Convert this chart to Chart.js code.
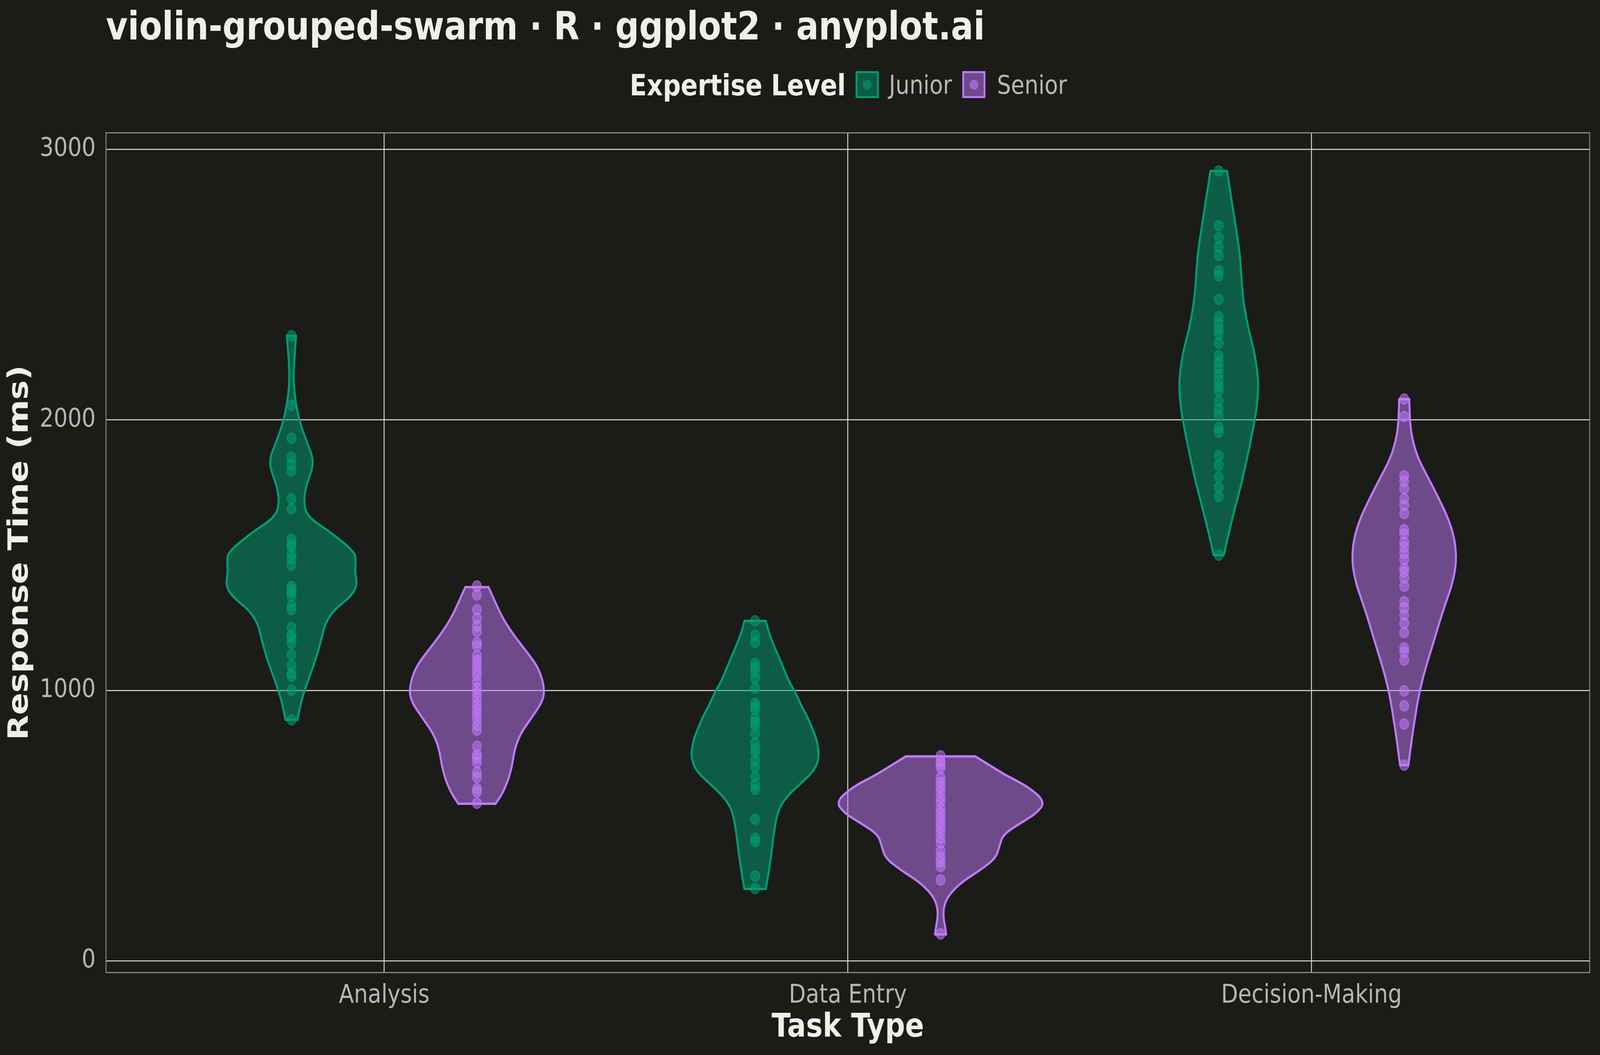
<!DOCTYPE html>
<html>
<head>
<meta charset="utf-8">
<script src="https://cdn.jsdelivr.net/npm/chart.js@4.4.1/dist/chart.umd.min.js"></script>
<style>
  html, body { margin: 0; padding: 0; width: 100%; height: 100%; background: #1b1b18; overflow: hidden; }
  #stage { position: fixed; left: 0; top: 0; width: 100vw; height: 100vh; overflow: hidden; }
  #wrap { position: absolute; left: 0; top: 0; width: 4800px; height: 2700px; transform-origin: 0 0; }
  #chart { position: absolute; left: 0; top: 0; width: 4800px; height: 2700px; }
  .txt { position: absolute; white-space: nowrap; font-family: "DejaVu Sans"; }
  #title { left: 318px; top: 17px; font-size: 100px; line-height: 100px; font-weight: bold; color: #f0efe8; }
  #legTitle { left: 1889px; top: 181px; font-size: 75px; line-height: 75px; font-weight: bold; color: #f0efe8; }
  .legLab { top: 185px; font-size: 66px; line-height: 66px; color: #b8b7b0; }
  .key { position: absolute; top: 182px; width: 69px; height: 69px; box-sizing: border-box; border: 5px solid; }
  .key span { position: absolute; left: 50%; top: 50%; width: 26px; height: 26px; margin: -13px 0 0 -13px; border-radius: 50%; }
</style>
</head>
<body>
<div id="stage">
<div id="wrap">
  <canvas id="chart" width="4800" height="2700"></canvas>
  <div id="title" class="txt">violin-grouped-swarm · R · ggplot2 · anyplot.ai</div>
  <div id="legTitle" class="txt">Expertise Level</div>
  <div class="key" style="left:2567px; border-color:#009e73; background:rgba(0,158,115,0.5);"><span style="background:rgba(0,158,115,0.6);"></span></div>
  <div class="txt legLab" style="left:2667px;">Junior</div>
  <div class="key" style="left:2887px; border-color:#c17afc; background:rgba(193,122,252,0.5);"><span style="background:rgba(193,122,252,0.6);"></span></div>
  <div class="txt legLab" style="left:2991px;">Senior</div>
</div>
</div>
<script>
// the 4800x2700 layout is stretched onto whatever viewport we actually get
const wrap = document.getElementById('wrap');
wrap.style.transform = `scale(${window.innerWidth / 4800}, ${window.innerHeight / 2700})`;

// categories / groups
const categories = ['Analysis', 'Data Entry', 'Decision-Making'];
const groups = ['Junior', 'Senior'];
const yTicks = [0, 1000, 2000, 3000];

// raw response times (ms)
const analysisJunior = [2311, 2054, 1932, 1861, 1835, 1811, 1708, 1671, 1559, 1541, 1533, 1505, 1487, 1463, 1385, 1374, 1362, 1350, 1314, 1298, 1233, 1203, 1194, 1174, 1132, 1092, 1062, 1053, 1001, 891];
const analysisSenior = [1386, 1353, 1298, 1266, 1238, 1218, 1176, 1164, 1128, 1110, 1092, 1074, 1056, 1032, 1008, 990, 972, 948, 930, 912, 894, 871, 853, 793, 763, 751, 733, 697, 679, 637, 625, 583];
const dataEntryJunior = [1257, 1203, 1178, 1099, 1085, 1067, 1045, 1008, 952, 940, 930, 896, 883, 870, 840, 805, 783, 770, 741, 717, 682, 651, 634, 524, 454, 441, 314, 268];
const dataEntrySenior = [758, 739, 726, 714, 678, 660, 643, 625, 603, 588, 564, 546, 529, 511, 494, 476, 454, 437, 406, 384, 367, 349, 299, 100];
const decisionJunior = [2920, 2718, 2673, 2639, 2609, 2551, 2533, 2446, 2381, 2358, 2335, 2317, 2284, 2237, 2214, 2191, 2168, 2145, 2123, 2107, 2069, 2039, 2016, 1971, 1955, 1867, 1831, 1788, 1750, 1717, 1500];
const decisionSenior = [2077, 2012, 1793, 1773, 1746, 1709, 1685, 1654, 1594, 1578, 1548, 1530, 1507, 1484, 1451, 1439, 1416, 1385, 1328, 1305, 1279, 1249, 1214, 1157, 1142, 1112, 998, 943, 876, 724];

// violin outlines: levels (ms, bottom -> top) and half widths (x units)
const analysisJuniorLevels = [891, 936, 984, 1056, 1128, 1200, 1248, 1296, 1344, 1386, 1439, 1475, 1511, 1583, 1643, 1705, 1763, 1844, 1918, 2000, 2098, 2182, 2311];
const analysisJuniorWidths = [0.013, 0.018, 0.025, 0.040, 0.055, 0.066, 0.073, 0.091, 0.126, 0.142, 0.137, 0.139, 0.137, 0.086, 0.033, 0.026, 0.033, 0.050, 0.033, 0.016, 0.006, 0.004, 0.010];
const analysisSeniorLevels = [581, 613, 661, 721, 781, 841, 901, 960, 1008, 1080, 1140, 1200, 1260, 1320, 1382];
const analysisSeniorWidths = [0.040, 0.053, 0.066, 0.076, 0.081, 0.094, 0.119, 0.142, 0.146, 0.134, 0.109, 0.081, 0.058, 0.041, 0.025];
const dataEntryJuniorLevels = [266, 293, 336, 406, 468, 529, 573, 616, 660, 704, 756, 818, 861, 905, 949, 993, 1036, 1080, 1124, 1168, 1211, 1257];
const dataEntryJuniorWidths = [0.023, 0.026, 0.030, 0.036, 0.040, 0.046, 0.054, 0.073, 0.101, 0.128, 0.139, 0.133, 0.123, 0.112, 0.098, 0.087, 0.072, 0.062, 0.051, 0.040, 0.030, 0.023];
const dataEntrySeniorLevels = [98, 126, 161, 205, 249, 293, 336, 380, 424, 468, 511, 546, 588, 643, 686, 721, 756];
const dataEntrySeniorWidths = [0.012, 0.010, 0.006, 0.007, 0.020, 0.047, 0.086, 0.119, 0.127, 0.135, 0.174, 0.207, 0.226, 0.190, 0.141, 0.108, 0.075];
const decisionJuniorLevels = [1500, 1530, 1591, 1667, 1758, 1849, 1940, 2031, 2107, 2153, 2244, 2335, 2426, 2518, 2609, 2700, 2776, 2852, 2920];
const decisionJuniorWidths = [0.011, 0.015, 0.023, 0.034, 0.048, 0.060, 0.071, 0.081, 0.085, 0.085, 0.078, 0.064, 0.054, 0.049, 0.046, 0.038, 0.031, 0.024, 0.018];
const decisionSeniorLevels = [724, 816, 907, 998, 1089, 1165, 1241, 1317, 1393, 1477, 1560, 1636, 1712, 1788, 1864, 1940, 2001, 2077];
const decisionSeniorWidths = [0.009, 0.016, 0.024, 0.033, 0.047, 0.061, 0.074, 0.088, 0.104, 0.113, 0.109, 0.095, 0.074, 0.051, 0.028, 0.016, 0.012, 0.011];

const juniorColor = '0,158,115';
const seniorColor = '193,122,252';
const gridColor = '#e4e4dc';
const dodge = 0.2;

const juniorSets = [analysisJunior, dataEntryJunior, decisionJunior];
const seniorSets = [analysisSenior, dataEntrySenior, decisionSenior];

const violins = [
  { cat: 0, off: -dodge, color: juniorColor, levels: analysisJuniorLevels, widths: analysisJuniorWidths },
  { cat: 0, off: dodge, color: seniorColor, levels: analysisSeniorLevels, widths: analysisSeniorWidths },
  { cat: 1, off: -dodge, color: juniorColor, levels: dataEntryJuniorLevels, widths: dataEntryJuniorWidths },
  { cat: 1, off: dodge, color: seniorColor, levels: dataEntrySeniorLevels, widths: dataEntrySeniorWidths },
  { cat: 2, off: -dodge, color: juniorColor, levels: decisionJuniorLevels, widths: decisionJuniorWidths },
  { cat: 2, off: dodge, color: seniorColor, levels: decisionSeniorLevels, widths: decisionSeniorWidths }
];

function toPoints(sets, off) {
  const pts = [];
  sets.forEach((vals, i) => vals.forEach(v => pts.push({ x: i + 1 + off, y: v })));
  return pts;
}

// smooth one side of the violin through its outline points
function traceSide(ctx, pts, first) {
  if (first) ctx.moveTo(pts[0][0], pts[0][1]); else ctx.lineTo(pts[0][0], pts[0][1]);
  for (let i = 1; i < pts.length - 1; i++) {
    const mx = (pts[i][0] + pts[i + 1][0]) / 2;
    const my = (pts[i][1] + pts[i + 1][1]) / 2;
    ctx.quadraticCurveTo(pts[i][0], pts[i][1], mx, my);
  }
  const last = pts[pts.length - 1];
  ctx.lineTo(last[0], last[1]);
}

const violinPlugin = {
  id: 'violins',
  beforeDatasetsDraw(chart) {
    const { ctx, chartArea, scales: { x, y } } = chart;
    ctx.save();
    // panel border
    ctx.strokeStyle = '#9c9c97';
    ctx.lineWidth = 2.5;
    ctx.strokeRect(chartArea.left, chartArea.top, chartArea.right - chartArea.left, chartArea.bottom - chartArea.top);

    violins.forEach(v => {
      const c = v.cat + 1 + v.off;
      const left = v.levels.map((l, i) => [x.getPixelForValue(c - v.widths[i]), y.getPixelForValue(l)]);
      const right = v.levels.map((l, i) => [x.getPixelForValue(c + v.widths[i]), y.getPixelForValue(l)]).reverse();
      ctx.beginPath();
      traceSide(ctx, left, true);
      traceSide(ctx, right, false);
      ctx.closePath();
      ctx.fillStyle = `rgba(${v.color},0.5)`;
      ctx.fill();
      ctx.strokeStyle = `rgb(${v.color})`;
      ctx.lineWidth = 6;
      ctx.lineJoin = 'round';
      ctx.stroke();
    });
    ctx.restore();
  }
};

Chart.defaults.font.family = 'DejaVu Sans';

new Chart(document.getElementById('chart'), {
  type: 'scatter',
  data: {
    datasets: [
      {
        label: groups[0],
        data: toPoints(juniorSets, -dodge),
        pointRadius: 13.5,
        backgroundColor: `rgba(${juniorColor},0.55)`,
        borderColor: `rgba(${juniorColor},0.75)`,
        borderWidth: 2
      },
      {
        label: groups[1],
        data: toPoints(seniorSets, dodge),
        pointRadius: 13.5,
        backgroundColor: `rgba(${seniorColor},0.55)`,
        borderColor: `rgba(${seniorColor},0.75)`,
        borderWidth: 2
      }
    ]
  },
  options: {
    responsive: false,
    animation: false,
    devicePixelRatio: 1,
    layout: { padding: { left: 0, right: 31, top: 340, bottom: 0 } },
    plugins: {
      legend: { display: false },
      tooltip: { enabled: false }
    },
    scales: {
      x: {
        type: 'linear',
        min: 0.4,
        max: 3.6,
        afterBuildTicks: s => { s.ticks = categories.map((c, i) => ({ value: i + 1 })); },
        afterFit: s => { s.height = 211; },
        ticks: {
          callback: v => categories[v - 1],
          color: '#b8b7b0',
          font: { size: 66 },
          padding: 20,
          maxRotation: 0,
          autoSkip: false
        },
        grid: { color: gridColor, lineWidth: 2.5, drawTicks: false },
        border: { display: false },
        title: {
          display: true,
          text: 'Task Type',
          color: '#f0efe8',
          font: { size: 84, weight: 'bold' },
          padding: { top: 0, bottom: 18 }
        }
      },
      y: {
        min: -43,
        max: 3061,
        afterBuildTicks: s => { s.ticks = yTicks.map(v => ({ value: v })); },
        afterFit: s => { s.width = 318; },
        ticks: {
          callback: v => String(v),
          color: '#b8b7b0',
          font: { size: 66 },
          padding: 31
        },
        grid: { color: gridColor, lineWidth: 2.5, drawTicks: false },
        border: { display: false },
        title: {
          display: true,
          text: 'Response Time (ms)',
          color: '#f0efe8',
          font: { size: 84, weight: 'bold' },
          padding: { top: 11, bottom: 0 }
        }
      }
    }
  },
  plugins: [violinPlugin]
});
</script>
</body>
</html>
